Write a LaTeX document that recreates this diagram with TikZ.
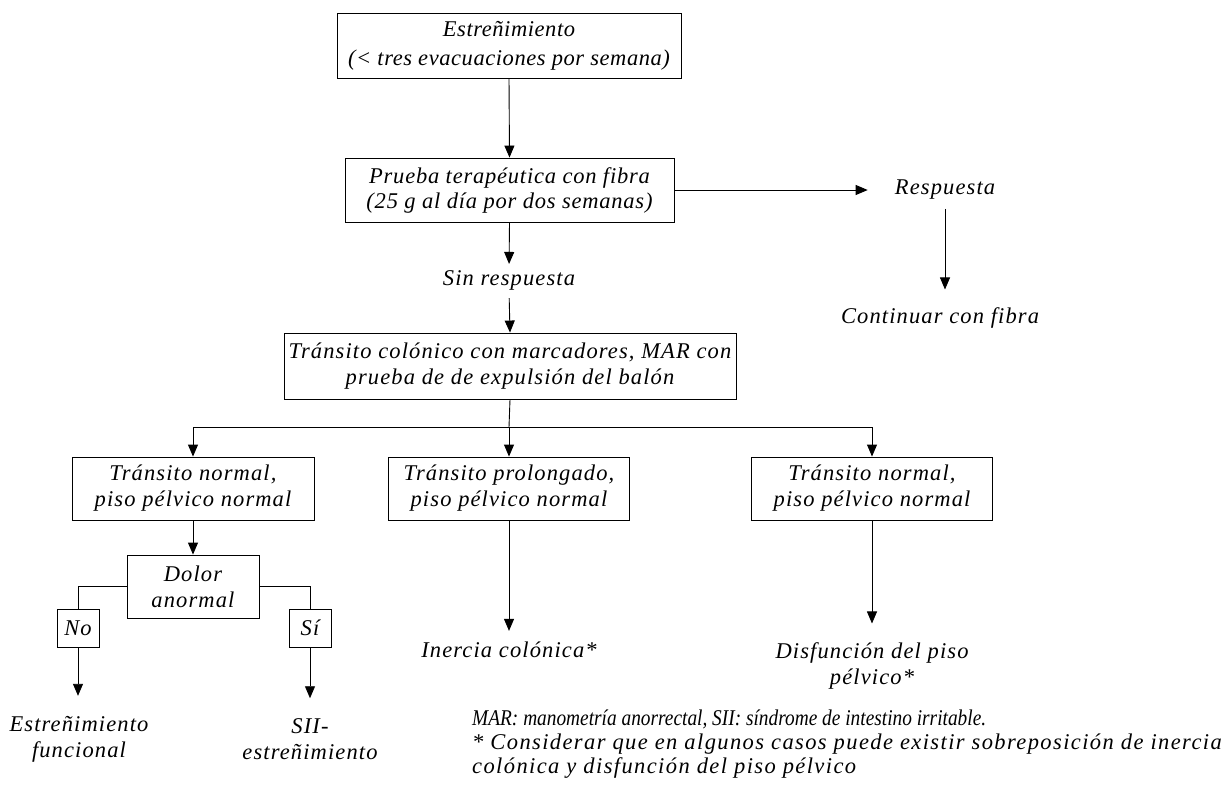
\documentclass[tikz,border=0pt]{standalone}
\usepackage{fontspec}
\setmainfont{Liberation Serif}
\newfontfamily\spacedserif[LetterSpace=5]{Liberation Serif}
\newfontfamily\spacedtop[LetterSpace=2.5]{Liberation Serif}
\newfontfamily\spacedsec[LetterSpace=3.5]{Liberation Serif}
\newfontfamily\spacedfoot[LetterSpace=6.2]{Liberation Serif}
\newfontfamily\narrowserif[FakeStretch=0.86]{Liberation Serif}
\usetikzlibrary{arrows.meta}
\begin{document}
\begin{tikzpicture}[x=1pt,y=-1pt,
  mainfont/.style={font=\spacedserif\fontsize{22.5}{26}\selectfont\itshape},
  box/.style={draw, line width=0.9pt, inner sep=0pt, align=center, mainfont},
  txt/.style={inner sep=0pt, align=center, mainfont},
  arr/.style={-{Triangle[length=12pt,width=10pt]}, line width=0.9pt},
  ln/.style={line width=0.9pt}]
\useasboundingbox (0,0) rectangle (1226,787);
% boxes
\node[box, minimum width=344pt, minimum height=65pt, font=\spacedtop\fontsize{22.5}{29}\selectfont\itshape] (n1) at (509,45.5) {Estreñimiento\\(< tres evacuaciones por semana)};
\node[box, minimum width=329pt, minimum height=64pt, font=\spacedsec\fontsize{22.5}{25}\selectfont\itshape] (n2) at (509.5,190) {Prueba terapéutica con fibra\\(25 g al día por dos semanas)};
\node[txt] (resp) at (945,190) {Respuesta};
\node[txt] (cont) at (940,318) {Continuar con fibra};
\node[txt] (sr) at (509,280) {Sin respuesta};
\node[box, minimum width=452pt, minimum height=66pt] (n3) at (510,366) {Tránsito colónico con marcadores, MAR con\\prueba de de expulsión del balón};
\node[box, minimum width=242pt, minimum height=63pt] (n4a) at (193,488.5) {Tránsito normal,\\piso pélvico normal};
\node[box, minimum width=241pt, minimum height=63pt] (n4b) at (509,488.5) {Tránsito prolongado,\\piso pélvico normal};
\node[box, minimum width=241pt, minimum height=63pt] (n4c) at (872,488.5) {Tránsito normal,\\piso pélvico normal};
\node[box, minimum width=132pt, minimum height=63pt] (dol) at (193,586.5) {Dolor\\anormal};
\node[box, minimum width=42pt, minimum height=38pt] (nob) at (78,628) {No};
\node[box, minimum width=42pt, minimum height=38pt] (sib) at (310,628) {Sí};
\node[txt] (ef) at (79,739) {Estreñimiento\\funcional};
\node[txt] (sii) at (310,739) {SII-\\estreñimiento};
\node[txt] (ine) at (509,650) {Inercia colónica*};
\node[txt] (dis) at (872,666) {Disfunción del piso\\pélvico*};
\node[inner sep=0pt, anchor=north west, align=left, font=\spacedfoot\fontsize{22.5}{24}\selectfont\itshape] (foot) at (472,710) {{\narrowserif\fontsize{22.5}{24}\selectfont\itshape MAR: manometría anorrectal, SII: síndrome de intestino irritable.}\\* Considerar que en algunos casos puede existir sobreposición de inercia\\colónica y disfunción del piso pélvico};
% connectors
\coordinate (j) at (509,427);
\draw[arr] (n1.south) -- (n2.north);
\draw[arr, shorten >=27pt] (n2.east) -- (resp.west);
\draw[arr, shorten <=9pt, shorten >=18pt] (resp.south) -- (resp.south |- cont.north);
\draw[arr, shorten >=6pt] (n2.south) -- (sr.north);
\draw[arr, shorten <=8pt] (sr.south) -- (n3.north);
\draw[ln] (n3.south) -- (j);
\draw[arr] (j) -- (n4b.north);
\draw[arr] (j) -| (n4a.north);
\draw[arr] (j) -| (n4c.north);
\draw[arr] (n4a.south) -- (dol.north);
\draw[ln] (dol.west) -| (nob.north);
\draw[ln] (dol.east) -| (sib.north);
\draw[arr, shorten >=20pt] (nob.south) -- (nob.south |- ef.north);
\draw[arr, shorten >=20pt] (sib.south) -- (sib.south |- sii.north);
\draw[arr, shorten >=11pt] (n4b.south) -- (ine.north);
\draw[arr, shorten >=19pt] (n4c.south) -- (dis.north);
\end{tikzpicture}
\end{document}
